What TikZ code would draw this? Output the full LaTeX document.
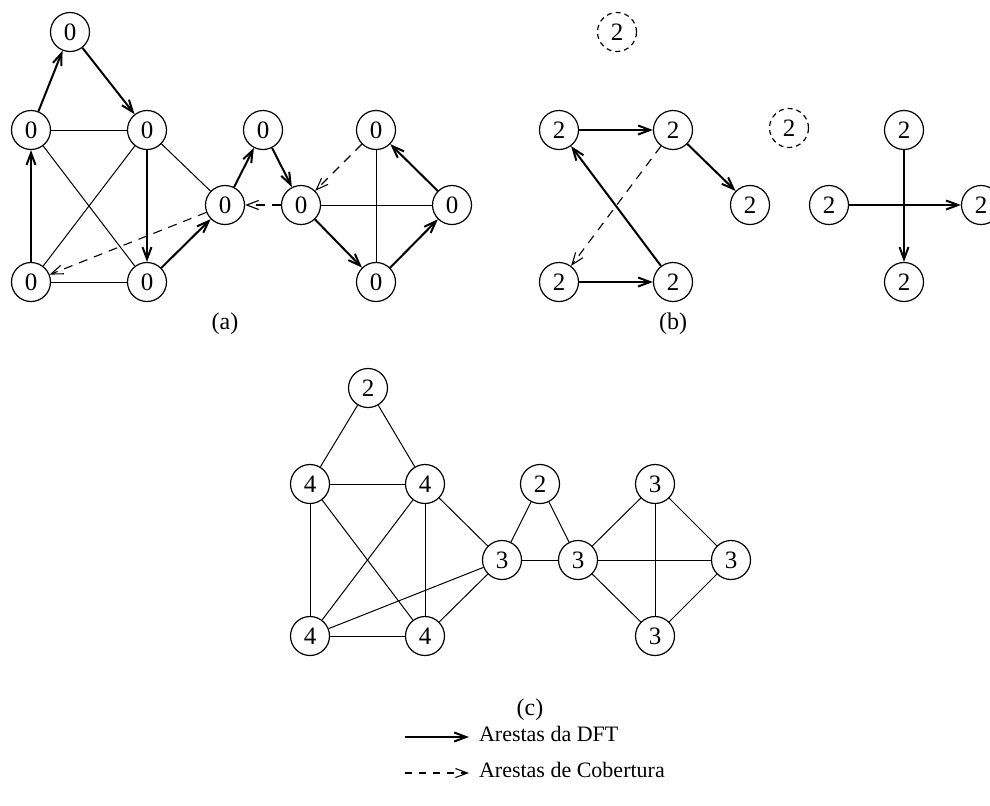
\documentclass[tikz,border=0pt]{standalone}
\usepackage{fontspec}
\setmainfont{Liberation Serif}
\usetikzlibrary{arrows.meta}
\begin{document}
\begin{tikzpicture}[x=0.5pt,y=-0.5pt,
  vtx/.style={circle,draw,line width=0.6pt,minimum size=19.5pt,inner sep=0pt,font=\fontsize{12.5}{15}\selectfont},
  dvtx/.style={vtx,dash pattern=on 2.5pt off 2pt},
  pl/.style={line width=0.5pt},
  dft/.style={line width=1pt,-{Straight Barb[length=6pt,width=4.5pt]}},
  cob/.style={line width=0.55pt,dash pattern=on 4.5pt off 3.5pt,-{Straight Barb[length=6pt,width=4.5pt]}},
  captxt/.style={font=\fontsize{12}{14}\selectfont},
  leg/.style={font=\fontsize{11}{13}\selectfont,anchor=west}]
\useasboundingbox (0,0) rectangle (990,805);
% ---------- (a)
\node[vtx] (a1) at (70,32) {0};
\node[vtx] (a2) at (31,130) {0};
\node[vtx] (a3) at (147,130) {0};
\node[vtx] (a4) at (31,282) {0};
\node[vtx] (a5) at (147,282) {0};
\node[vtx] (a6) at (225,205) {0};
\node[vtx] (a7) at (263,130) {0};
\node[vtx] (a8) at (301,205) {0};
\node[vtx] (a9) at (376,130) {0};
\node[vtx] (a10) at (452,205) {0};
\node[vtx] (a11) at (376,282) {0};
\draw[dft] (a2) -- (a1);
\draw[dft] (a1) -- (a3);
\draw[pl] (a2) -- (a3);
\draw[dft] (a3) -- (a5);
\draw[dft] (a4) -- (a2);
\draw[pl] (a4) -- (a5);
\draw[pl] (a3) -- (a4);
\draw[pl] (a2) -- (a5);
\draw[dft] (a5) -- (a6);
\draw[pl] (a3) -- (a6);
\draw[dft] (a6) -- (a7);
\draw[dft] (a7) -- (a8);
\draw[cob] (a8) -- (a6);
\draw[cob] (a6) -- (a4);
\draw[cob] (a9) -- (a8);
\draw[pl] (a8) -- (a10);
\draw[pl] (a9) -- (a11);
\draw[dft] (a8) -- (a11);
\draw[dft] (a11) -- (a10);
\draw[dft] (a10) -- (a9);
\node[captxt] (capa) at (225,324) {(a)};
% ---------- (b)
\node[dvtx] (bd1) at (617,32) {2};
\node[vtx] (b1) at (559,130) {2};
\node[vtx] (b2) at (673,130) {2};
\node[vtx] (b3) at (750,205) {2};
\node[vtx] (b4) at (559,282) {2};
\node[vtx] (b5) at (673,282) {2};
\node[dvtx] (bd2) at (789,128) {2};
\node[vtx] (b6) at (904,130) {2};
\node[vtx] (b7) at (829,205) {2};
\node[vtx] (b8) at (981,205) {2};
\node[vtx] (b9) at (904,282) {2};
\draw[dft] (b1) -- (b2);
\draw[dft] (b2) -- (b3);
\draw[cob] (b2) -- (b4);
\draw[dft] (b5) -- (b1);
\draw[dft] (b4) -- (b5);
\draw[dft] (b7) -- (b8);
\draw[dft] (b6) -- (b9);
\node[captxt] (capb) at (673,324) {(b)};
% ---------- (c)
\node[vtx] (c1) at (368,388) {2};
\node[vtx] (c2) at (310,484) {4};
\node[vtx] (c3) at (425,484) {4};
\node[vtx] (c4) at (502,560) {3};
\node[vtx] (c5) at (540,484) {2};
\node[vtx] (c6) at (578,560) {3};
\node[vtx] (c7) at (655,484) {3};
\node[vtx] (c8) at (731,560) {3};
\node[vtx] (c9) at (310,636) {4};
\node[vtx] (c10) at (425,636) {4};
\node[vtx] (c11) at (655,636) {3};
\foreach \u/\v in {c1/c2,c1/c3,c2/c3,c2/c9,c2/c10,c3/c9,c3/c10,c3/c4,c9/c10,c9/c4,c10/c4,c4/c5,c5/c6,c4/c6,c6/c7,c6/c8,c6/c11,c7/c8,c7/c11,c11/c8}
  \draw[pl] (\u) -- (\v);
\node[captxt] (capc) at (530,710) {(c)};
% ---------- legend
\coordinate (l1a) at (405,737);
\coordinate (l1b) at (469,737);
\coordinate (l2a) at (405,773);
\coordinate (l2b) at (469,773);
\draw[dft] (l1a) -- (l1b);
\draw[cob,dash pattern=on 3.5pt off 3.5pt] (l2a) -- (l2b);
\node[leg] (t1) at (472,734) {Arestas da DFT};
\node[leg] (t2) at (472,770) {Arestas de Cobertura};
\end{tikzpicture}
\end{document}
